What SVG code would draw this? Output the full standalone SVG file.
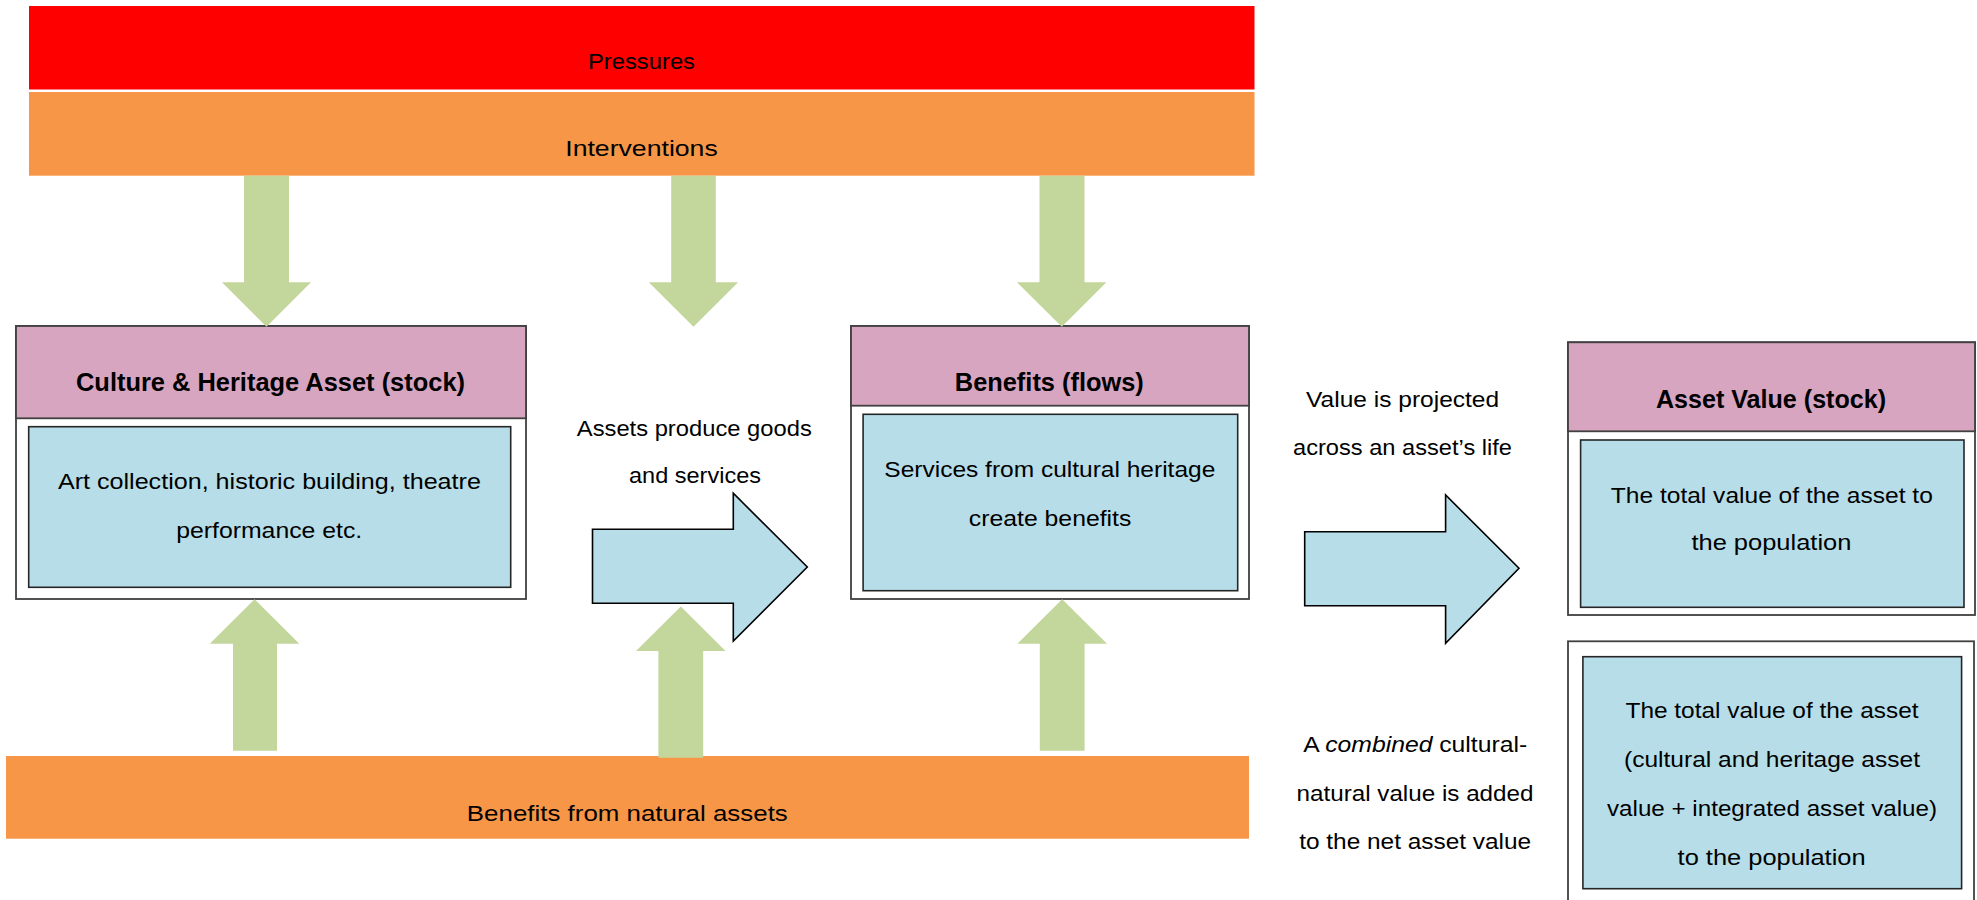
<svg xmlns="http://www.w3.org/2000/svg" width="1977" height="900" viewBox="0 0 1977 900">
  <style>
    text { font-family: "Liberation Sans", Arial, sans-serif; font-size: 22px; fill: #000; text-anchor: middle; }
    .title { font-weight: bold; font-size: 26px; }
    .frame { fill: #fff; stroke: #404040; stroke-width: 1.8; }
    .head { fill: #D7A5BF; stroke: #404040; stroke-width: 1.8; }
    .inner { fill: #B7DDE8; stroke: #262626; stroke-width: 1.6; }
    .pressure { fill: #FF0000; }
    .orange { fill: #F79646; }
    .green { fill: #C3D69B; }
    .flow { fill: #B7DDE8; stroke: #000; stroke-width: 1.6; stroke-linejoin: miter; }
  </style>

  <!-- horizontal bands -->
  <g id="pressures">
    <rect class="pressure" x="29" y="6" width="1225.5" height="83.5"/>
    <text x="641.5" y="69.3" textLength="107" lengthAdjust="spacingAndGlyphs">Pressures</text>
  </g>
  <g id="interventions">
    <rect class="orange" x="29" y="92" width="1225.5" height="83.7"/>
    <text x="641.5" y="155.7" textLength="152.5" lengthAdjust="spacingAndGlyphs">Interventions</text>
  </g>
  <g id="natural-benefits">
    <rect class="orange" x="6" y="756" width="1243" height="82.7"/>
    <text x="627.3" y="820.7" textLength="321" lengthAdjust="spacingAndGlyphs">Benefits from natural assets</text>
  </g>

  <!-- stock / flow boxes -->
  <g id="culture-asset">
    <rect class="frame" x="16" y="326" width="510" height="273"/>
    <rect class="head" x="16" y="326" width="510" height="92.3"/>
    <text class="title" x="270.5" y="390.7" textLength="389" lengthAdjust="spacingAndGlyphs">Culture &amp; Heritage Asset (stock)</text>
    <rect class="inner" x="28.7" y="426.7" width="482" height="160.6"/>
    <text x="269.4" y="488.7" textLength="423" lengthAdjust="spacingAndGlyphs">Art collection, historic building, theatre</text>
    <text x="269.2" y="537.7" textLength="186" lengthAdjust="spacingAndGlyphs">performance etc.</text>
  </g>

  <g id="benefits">
    <rect class="frame" x="851" y="326" width="398" height="273"/>
    <rect class="head" x="851" y="326" width="398" height="79.7"/>
    <text class="title" x="1049.3" y="390.7" textLength="189" lengthAdjust="spacingAndGlyphs">Benefits (flows)</text>
    <rect class="inner" x="863.1" y="414.3" width="374.6" height="176.4"/>
    <text x="1049.8" y="476.7" textLength="331" lengthAdjust="spacingAndGlyphs">Services from cultural heritage</text>
    <text x="1050.1" y="525.7" textLength="162.5" lengthAdjust="spacingAndGlyphs">create benefits</text>
  </g>

  <g id="asset-value">
    <rect class="frame" x="1568" y="342.3" width="407" height="272.7"/>
    <rect class="head" x="1568" y="342.3" width="407" height="89"/>
    <text class="title" x="1771" y="407.7" textLength="230" lengthAdjust="spacingAndGlyphs">Asset Value (stock)</text>
    <rect class="inner" x="1580.6" y="440" width="383.4" height="167.3"/>
    <text x="1771.8" y="502.7" textLength="322" lengthAdjust="spacingAndGlyphs">The total value of the asset to</text>
    <text x="1771.4" y="550" textLength="160" lengthAdjust="spacingAndGlyphs">the population</text>
  </g>

  <g id="combined-value">
    <rect class="frame" x="1568" y="641.3" width="406" height="270"/>
    <rect class="inner" x="1582.9" y="656.7" width="378.7" height="232"/>
    <text x="1772" y="718.3" textLength="293" lengthAdjust="spacingAndGlyphs">The total value of the asset</text>
    <text x="1772" y="766.7" textLength="296" lengthAdjust="spacingAndGlyphs">(cultural and heritage asset</text>
    <text x="1772" y="816" textLength="330" lengthAdjust="spacingAndGlyphs">value + integrated asset value)</text>
    <text x="1771.6" y="865" textLength="188" lengthAdjust="spacingAndGlyphs">to the population</text>
  </g>

  <!-- connectors: block arrows -->
  <g id="connectors">
    <!-- downward arrows from the intervention band -->
    <path class="green" d="M244,175.7 H289 V282.3 H311 L266.5,326.7 L222,282.3 H244 Z"/>
    <path class="green" d="M671.2,175.7 H715.8 V282.3 H738.1 L693.5,326.7 L648.8,282.3 H671.2 Z"/>
    <path class="green" d="M1039.5,175.7 H1084.5 V282.3 H1106.4 L1061.8,326.7 L1017,282.3 H1039.5 Z"/>

    <!-- flow arrows between stages -->
    <path class="flow" d="M592.5,529.3 H733.3 V493.3 L807.3,567 L733.3,641 V603.3 H592.5 Z"/>
    <path class="flow" d="M1304.7,531.7 H1445.6 V495 L1519,568.3 L1445.6,643.3 V605.7 H1304.7 Z"/>

    <!-- upward arrows from the natural-benefits band -->
    <path class="green" d="M233,750.7 H277 V643.7 H299.3 L254.6,599.3 L209.8,643.7 H233 Z"/>
    <path class="green" d="M658.4,757.7 H703.2 V651 H725.5 L680.8,606.5 L636,651 H658.4 Z"/>
    <path class="green" d="M1039.8,750.7 H1084.6 V643.7 H1107 L1062.2,599.3 L1017.4,643.7 H1039.8 Z"/>
  </g>

  <!-- arrow captions -->
  <g id="labels">
    <text x="694.3" y="435.7" textLength="235" lengthAdjust="spacingAndGlyphs">Assets produce goods</text>
    <text x="695" y="483.3" textLength="132" lengthAdjust="spacingAndGlyphs">and services</text>
    <text x="1402.6" y="406.7" textLength="193" lengthAdjust="spacingAndGlyphs">Value is projected</text>
    <text x="1402.5" y="455.3" textLength="219" lengthAdjust="spacingAndGlyphs">across an asset’s life</text>
    <text x="1415.2" y="751.7" textLength="224" lengthAdjust="spacingAndGlyphs">A <tspan font-style="italic">combined</tspan> cultural-</text>
    <text x="1415" y="800.7" textLength="237" lengthAdjust="spacingAndGlyphs">natural value is added</text>
    <text x="1415.2" y="849.3" textLength="232" lengthAdjust="spacingAndGlyphs">to the net asset value</text>
  </g>
</svg>
